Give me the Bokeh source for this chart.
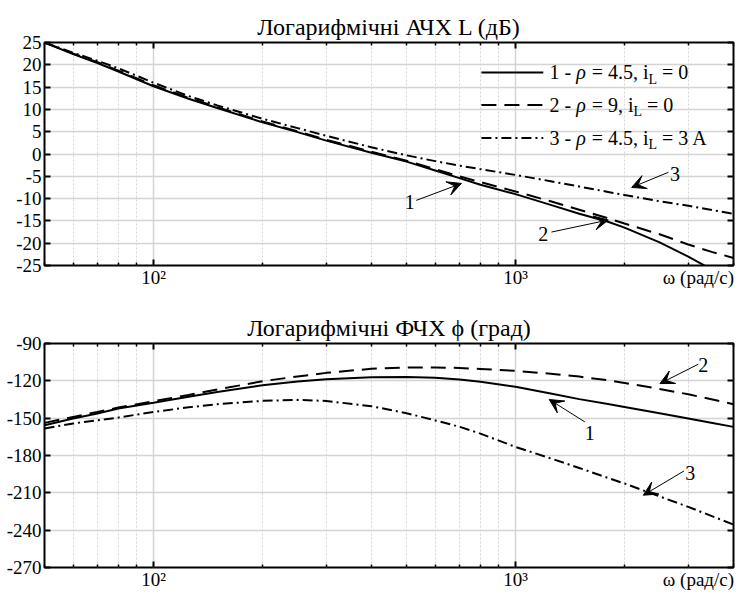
from bokeh.plotting import figure
from bokeh.models import FixedTicker, LinearAxis, LogAxis, Range1d, Label, Arrow, VeeHead
from bokeh.layouts import column
from bokeh.embed import file_html
from bokeh.resources import INLINE

FONT = "'Liberation Serif', 'Times New Roman', serif"

# ---------------- data ----------------
w = [50, 60, 70, 80, 100, 125, 150, 200, 250, 300, 400, 500, 600, 700, 800,
     1000, 1250, 1500, 1800, 2000, 2500, 3000, 3500, 4000]

# magnitude, dB
L1 = [25.0, 22.4, 20.4, 18.5, 15.2, 12.4, 10.3, 7.1, 4.9, 3.0, 0.3, -1.7, -3.7,
      -5.4, -6.9, -9.0, -11.4, -13.4, -15.2, -16.5, -19.8, -23.0, -26.0, -29.0]
L2 = [25.0, 22.5, 20.6, 18.7, 15.4, 12.6, 10.5, 7.3, 5.1, 3.2, 0.5, -1.5, -3.4,
      -5.0, -6.3, -8.4, -10.6, -12.5, -14.4, -15.6, -18.0, -20.3, -22.0, -23.3]
L3 = [25.0, 22.7, 20.9, 19.2, 16.0, 13.0, 10.9, 7.9, 5.8, 4.1, 1.5, -0.3, -1.6,
      -2.6, -3.4, -4.7, -6.1, -7.3, -8.5, -9.2, -10.6, -11.6, -12.6, -13.4]

# phase, degrees
P1 = [-155.7, -150.3, -146.3, -142.3, -137.7, -132.8, -128.9, -123.5, -120.6,
      -118.7, -117.2, -116.9, -117.6, -119.0, -120.8, -124.8, -130.2, -134.7,
      -138.7, -141.0, -146.1, -150.3, -153.9, -157.0]
P2 = [-153.8, -149.0, -145.0, -141.5, -136.4, -131.3, -127.0, -120.3, -116.5,
      -113.6, -110.3, -109.3, -109.2, -109.7, -110.4, -112.0, -114.3, -116.6,
      -119.6, -121.7, -126.5, -130.8, -135.0, -138.8]
P3 = [-158.3, -154.3, -151.7, -149.5, -145.0, -141.3, -138.8, -136.1, -135.3,
      -136.2, -140.4, -146.0, -151.8, -156.9, -162.4, -173.1, -182.3, -190.0,
      -198.0, -202.5, -212.9, -221.3, -228.9, -235.5]

x_major = [100, 1000]
x_minor = [50, 60, 70, 80, 90, 200, 300, 400, 500, 600, 700, 800, 900, 2000, 3000, 4000]
x_labels = {100: "10\u00b2", 1000: "10\u00b3"}
x_name_at = 3200
x_name = "\u03c9 (рад/с)"
L_ticks = [-25, -20, -15, -10, -5, 0, 5, 10, 15, 20, 25]
P_ticks = [-270, -240, -210, -180, -150, -120, -90]

title_L = "Логарифмічні АЧХ L (дБ)"
title_P = "Логарифмічні ФЧХ \u03d5 (град)"
legend_rows = [("1", "4.5", "0"), ("2", "9", "0"), ("3", "4.5", "3 A")]
dashes = ["solid", "15 8", "10 4 2 4"]

GRID = "#d4d4d4"
TICK_FS = "19px"
W = 745


def make_fig(title, yr, yticks, height, btop, bbot):
    p = figure(x_axis_type="log", x_range=Range1d(50, 4000), y_range=Range1d(*yr),
               width=W, height=height,
               min_border_left=44, min_border_right=12,
               min_border_top=btop, min_border_bottom=bbot,
               output_backend="svg", toolbar_location=None)
    p.title.text = title
    p.title.text_font = FONT
    p.title.text_font_size = "24px"
    p.title.text_font_style = "normal"
    p.title.text_color = "black"
    p.title.align = "center"
    p.title.standoff = 6
    p.outline_line_color = "black"
    p.outline_line_width = 2
    p.background_fill_color = "white"
    p.border_fill_color = "white"

    xt = FixedTicker(ticks=x_major, minor_ticks=x_minor)
    yt = FixedTicker(ticks=yticks, minor_ticks=[])

    ax = p.xaxis[0]
    ax.ticker = xt
    ay = p.yaxis[0]
    ay.ticker = yt
    ay.major_label_overrides = {t: str(t) for t in yticks}

    top = LogAxis(ticker=xt)
    right = LinearAxis(ticker=yt)
    p.add_layout(top, "above")
    p.add_layout(right, "right")

    for a in (ax, ay, top, right):
        a.axis_line_color = None
        a.major_tick_in = 6
        a.major_tick_out = 0
        a.minor_tick_in = 3
        a.minor_tick_out = 0
        a.major_tick_line_color = "black"
        a.major_tick_line_width = 2
        a.minor_tick_line_color = "black"
        a.minor_tick_line_width = 1.5
        a.major_label_text_font = FONT
        a.major_label_text_font_size = TICK_FS
        a.major_label_text_color = "black"
        a.major_label_standoff = 3
    for a in (ay, right):
        a.minor_tick_line_color = None
    # tick-mark-only axes (labels carried elsewhere)
    for a, ticks in ((ax, x_major), (top, x_major), (right, yticks)):
        a.major_label_overrides = {t: "" for t in ticks}
        a.major_label_standoff = 0
        a.major_label_text_font_size = "1px"

    # label row under the x axis: decade labels and the axis name
    lab = LogAxis(ticker=FixedTicker(ticks=x_major + [x_name_at], minor_ticks=[]))
    ov = dict(x_labels)
    ov[x_name_at] = x_name
    lab.major_label_overrides = ov
    lab.axis_line_color = None
    lab.major_tick_line_color = None
    lab.minor_tick_line_color = None
    lab.major_tick_in = 0
    lab.major_tick_out = 0
    lab.major_label_text_font = FONT
    lab.major_label_text_font_size = TICK_FS
    lab.major_label_text_color = "black"
    lab.major_label_standoff = 1
    p.add_layout(lab, "below")

    p.xgrid.ticker = xt
    p.xgrid.grid_line_color = GRID
    p.xgrid.grid_line_width = 1.5
    p.xgrid.minor_grid_line_color = GRID
    p.xgrid.minor_grid_line_width = 1
    p.xgrid.minor_grid_line_dash = "2 2"
    p.ygrid.ticker = yt
    p.ygrid.grid_line_color = GRID
    p.ygrid.grid_line_width = 1.5
    return p


def add_arrows(p, specs):
    for txt, tx, ty, x0, y0, x1, y1 in specs:
        p.add_layout(Arrow(x_start=x0, y_start=y0, x_end=x1, y_end=y1,
                           line_color="black", line_width=1,
                           end=VeeHead(size=14, fill_color="black",
                                       line_color="black", line_width=1)))
        p.add_layout(Label(x=tx, y=ty, text=txt, text_font=FONT,
                           text_font_size="20px", text_align="center",
                           text_baseline="middle", text_color="black"))


# ---------------- top: magnitude ----------------
p1 = make_fig(title_L, (-25, 25), L_ticks, 295, 42, 30)
for ys, d in zip((L1, L2, L3), dashes):
    p1.line(w, ys, line_color="black", line_width=2, line_dash=d)

# legend (drawn by hand because of the subscript)
FS = 20
SUB = 14
adv = {' ': .25, '1': .5, '2': .5, '3': .5, '4': .5, '5': .5, '9': .5, '0': .5,
       '-': .333, '=': .564, '.': .25, ',': .25, 'i': .278, 'A': .722, 'L': .611,
       '\u03c1': .52}


def tw(s, size):
    return sum(adv.get(c, .5) for c in s) * size


leg_y = [18.3, 11.0, 3.6]
leg_x0, leg_x1, leg_tx = 805, 1193, 1226
for (num, rho, il), y, d in zip(legend_rows, leg_y, dashes):
    p1.line([leg_x0, leg_x1], [y, y], line_color="black", line_width=2, line_dash=d)
    pieces = [(f"{num} - ", "normal", FS, 0), ("\u03c1", "italic", FS, 0),
              (f" = {rho}, i", "normal", FS, 0), ("L", "normal", SUB, -7),
              (f" = {il}", "normal", FS, 0)]
    off = 2
    for txt, style, size, dy in pieces:
        lead = len(txt) - len(txt.lstrip(" "))
        off += lead * 0.25 * size
        body = txt.strip(" ")
        p1.add_layout(Label(x=leg_tx, y=y, text=body, text_font=FONT,
                            text_font_style=style, text_font_size=f"{size}px",
                            text_align="left", text_baseline="middle",
                            text_color="black", x_offset=off, y_offset=dy))
        off += tw(txt.lstrip(" "), size)

add_arrows(p1, [
    ("1", 510, -10.8, 532, -10.4, 709, -6.6),
    ("2", 1193, -17.9, 1257, -17.5, 1804, -14.8),
    ("3", 2757, -4.5, 2645, -4.1, 2093, -7.5),
])

# ---------------- bottom: phase ----------------
p2 = make_fig(title_P, (-270, -90), P_ticks, 302, 48, 30)
for ys, d in zip((P1, P2, P3), dashes):
    p2.line(w, ys, line_color="black", line_width=2, line_dash=d)

add_arrows(p2, [
    ("2", 3302, -107.4, 3199, -106.6, 2506, -122.2),
    ("1", 1604, -162.3, 1554, -153.0, 1239, -135.0),
    ("3", 3036, -194.0, 2921, -192.4, 2254, -211.9),
])

layout = column(p1, p2, spacing=0)
open("out.html", "w").write(file_html(layout, INLINE))
